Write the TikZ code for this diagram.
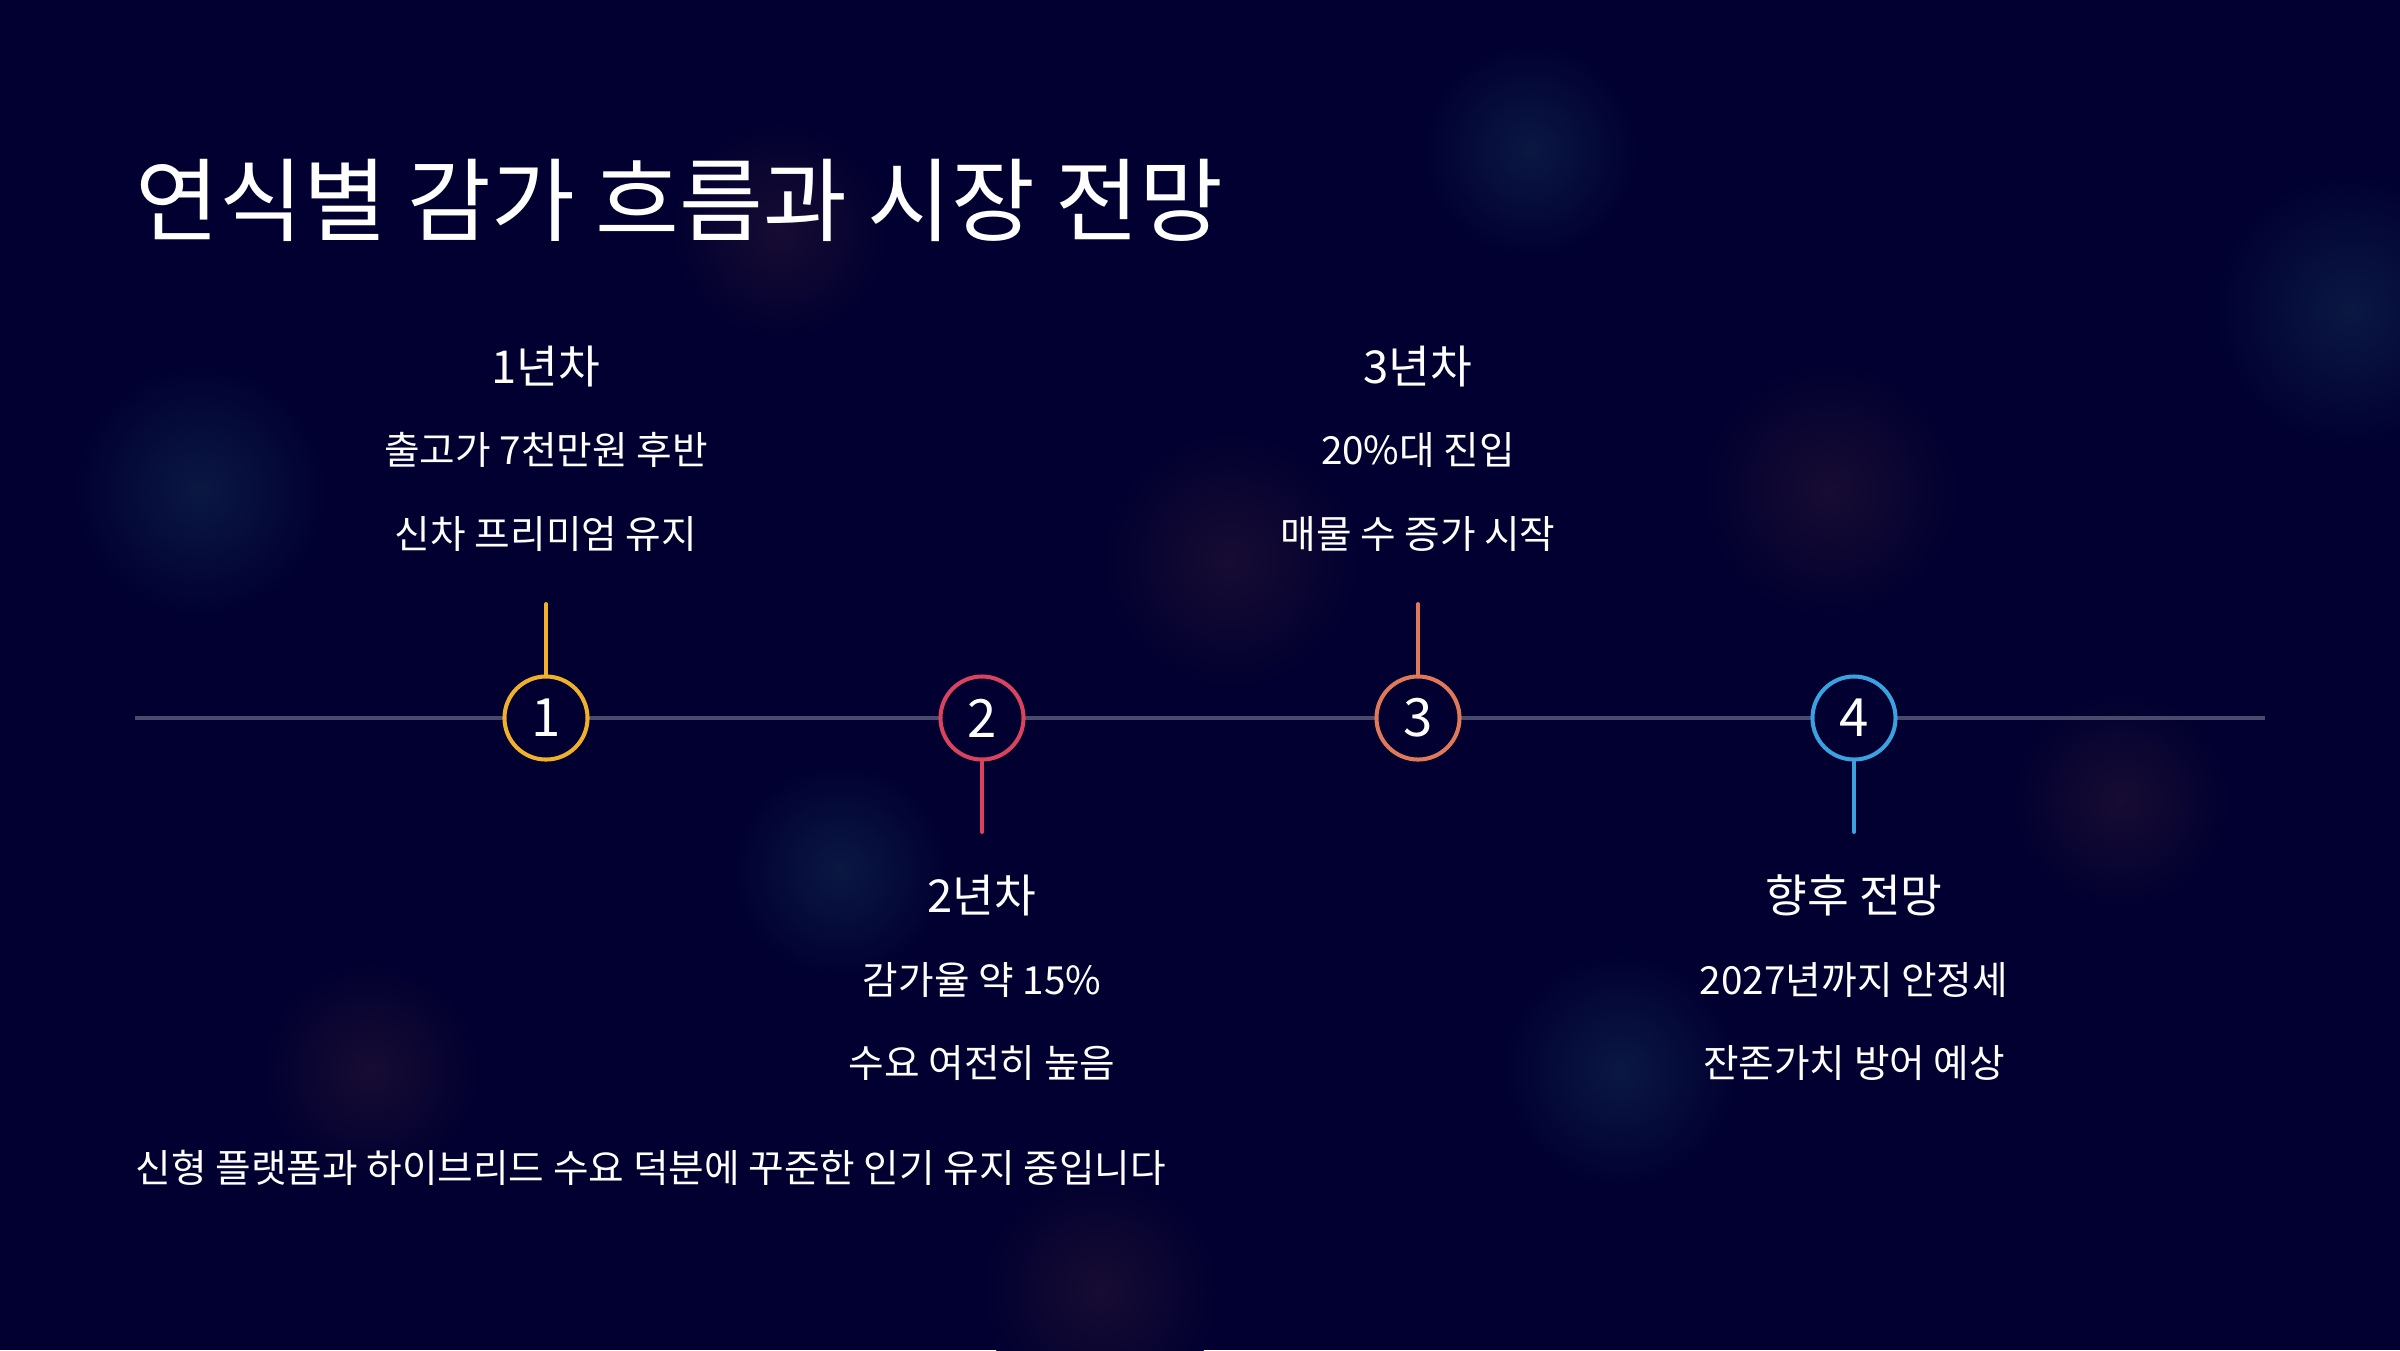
\documentclass[tikz,border=0pt]{standalone}
\usepackage{fontspec}
\setmainfont{Noto Sans CJK KR}
\usetikzlibrary{positioning,calc}
\definecolor{bgnavy}{HTML}{010030}
\definecolor{axisgray}{HTML}{4A4A6C}
\definecolor{markyellow}{HTML}{F0B02C}
\definecolor{markred}{HTML}{D9435E}
\definecolor{markorange}{HTML}{E0785A}
\definecolor{markblue}{HTML}{3AA2E0}
\definecolor{glowblue}{HTML}{0A1842}
\definecolor{glowred}{HTML}{170C32}

\begin{document}
\begin{tikzpicture}[
  x=0.01cm, y=-0.01cm,
  marker/.style={circle, draw=#1, line width=1.15pt, fill=bgnavy,
    minimum size=0.83cm, inner sep=0pt, text=white,
    font=\fontsize{15}{15}\selectfont},
  stem/.style={draw=#1, line width=1.1pt, line cap=round},
  axis/.style={draw=axisgray, line width=1.05pt},
  head/.style={text=white, font=\fontsize{12.9}{15}\selectfont, inner sep=0pt},
  sub/.style={text=white, font=\fontsize{11}{13}\selectfont, inner sep=0pt},
  glow/.style={inner color=#1, outer color=bgnavy},
]
\useasboundingbox (0,0) rectangle (2400,1350);
\fill[bgnavy] (0,0) rectangle (2400,1350);

% soft background glows
\shade[glow=glowblue] (200,490) circle (130);
\shade[glow=glowblue] (2350,310) circle (140);
\shade[glow=glowred] (370,1070) circle (110);
\shade[glow=glowblue] (1620,1070) circle (120);
\shade[glow=glowred] (1230,560) circle (130);
\shade[glow=glowred] (1830,490) circle (130);
\shade[glow=glowblue] (840,870) circle (110);
\shade[glow=glowred] (1100,1290) circle (120);
\shade[glow=glowred] (2120,800) circle (110);
\shade[glow=glowred] (780,230) circle (110);
\shade[glow=glowblue] (1530,150) circle (110);

% title
\node[text=white, font=\fontsize{25.9}{30}\selectfont, inner sep=0pt, anchor=west]
  (title) at (135,200) {연식별 감가 흐름과 시장 전망};

% timeline
\coordinate (start) at (135,718);
\coordinate (end) at (2265,718);
\draw[axis] (start) -- (end);

\node[marker=markyellow] (c1) at (546,718) {1};
\node[marker=markred] (c2) at (982,718) {2};
\node[marker=markorange] (c3) at (1418,718) {3};
\node[marker=markblue] (c4) at (1854,718) {4};

\coordinate (t1) at (546,604);
\coordinate (t2) at (982,832);
\coordinate (t3) at (1418,604);
\coordinate (t4) at (1854,832);
\draw[stem=markyellow] (c1.north) -- (t1);
\draw[stem=markred] (c2.south) -- (t2);
\draw[stem=markorange] (c3.north) -- (t3);
\draw[stem=markblue] (c4.south) -- (t4);

% labels above
\node[head] (h1) at (546,366) {1년차};
\node[sub] (a1) at (546,450) {출고가 7천만원 후반};
\node[sub] (b1) at (546,534) {신차 프리미엄 유지};
\node[head] (h3) at (1418,366) {3년차};
\node[sub] (a3) at (1418,450) {20\%대 진입};
\node[sub] (b3) at (1418,534) {매물 수 증가 시작};

% labels below
\node[head] (h2) at (982,895) {2년차};
\node[sub] (a2) at (982,980) {감가율 약 15\%};
\node[sub] (b2) at (982,1063) {수요 여전히 높음};
\node[head] (h4) at (1854,895) {향후 전망};
\node[sub] (a4) at (1854,980) {2027년까지 안정세};
\node[sub] (b4) at (1854,1063) {잔존가치 방어 예상};

% footer
\node[text=white, font=\fontsize{11}{13}\selectfont, inner sep=0pt, anchor=west]
  (note) at (135,1168) {신형 플랫폼과 하이브리드 수요 덕분에 꾸준한 인기 유지 중입니다};
\end{tikzpicture}
\end{document}
